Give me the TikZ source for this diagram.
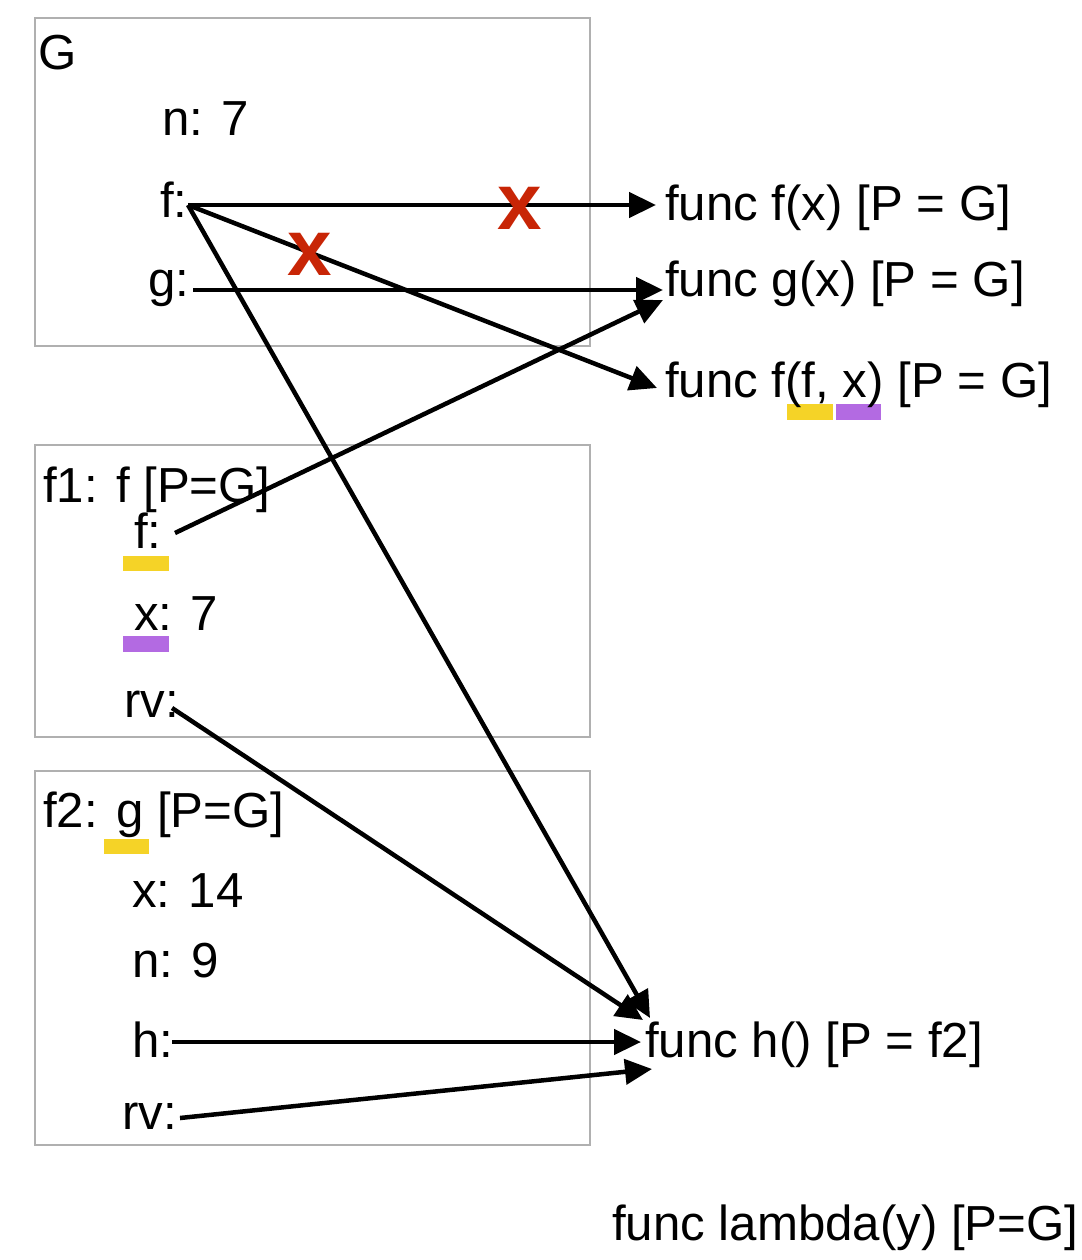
\documentclass[tikz,border=0pt]{standalone}
\usepackage{fontspec}
\setmainfont{Liberation Sans}
\usetikzlibrary{arrows.meta}
\definecolor{boxgray}{HTML}{B0B0B0}
\definecolor{xred}{HTML}{C82506}
\definecolor{hlyellow}{HTML}{F5D327}
\definecolor{hlpurple}{HTML}{B36AE2}
\begin{document}
\begin{tikzpicture}[x=1pt,y=-1pt,
  frame/.style={draw=boxgray,line width=2.5pt},
  lbl/.style={inner sep=0pt,anchor=base west,font=\fontsize{49.2}{58}\selectfont},
  cross/.style={inner sep=0pt,anchor=center,text=xred,font=\bfseries\fontsize{80}{80}\selectfont},
  ptr/.style={line width=4.5pt,-{Triangle[length=27pt,width=25pt]}},
  hly/.style={fill=hlyellow},
  hlp/.style={fill=hlpurple}]
\useasboundingbox (0,0) rectangle (1081,1260);
% frames
\draw[frame] (35,18) rectangle (590,346);
\draw[frame] (35,445) rectangle (590,737);
\draw[frame] (35,771) rectangle (590,1145);
% highlight bars
\fill[hly] (787,404) rectangle (833,420);
\fill[hlp] (836,404) rectangle (881,420);
\fill[hly] (123,556) rectangle (169,571);
\fill[hlp] (123,636) rectangle (169,652);
\fill[hly] (104,839) rectangle (149,854);
% G frame texts
\node[lbl] (Gt) at (38,70) {G};
\node[lbl] (Gn) at (162,136) {n: 7};
\node[lbl] (Gf) at (160,218) {f:};
\node[lbl] (Gg) at (148,296) {g:};
% functions
\node[lbl] (fx) at (665,220) {func f(x) [P = G]};
\node[lbl] (gx) at (665,296) {func g(x) [P = G]};
\node[lbl] (ffx) at (665,397) {func f(f, x) [P = G]};
\node[lbl] (hf) at (645,1057) {func h() [P = f2]};
\node[lbl] (lam) at (612,1240) {func lambda(y) [P=G]};
% f1 frame
\node[lbl] (F1t) at (43,502) {f1: f [P=G]};
\node[lbl] (F1f) at (134,548) {f:};
\node[lbl] (F1x) at (134,630) {x: 7};
\node[lbl] (F1rv) at (124,717) {rv:};
% f2 frame
\node[lbl] (F2t) at (43,827) {f2: g [P=G]};
\node[lbl] (F2x) at (132,907) {x: 14};
\node[lbl] (F2n) at (132,977) {n: 9};
\node[lbl] (F2h) at (132,1057) {h:};
\node[lbl] (F2rv) at (122,1129) {rv:};
% connector end points
\coordinate (sGf) at (188,205);
\coordinate (sGg) at (193,290);
\coordinate (sF1f) at (175,533);
\coordinate (sF1rv) at (172,708);
\coordinate (sF2h) at (172,1042);
\coordinate (sF2rv) at (180,1118);
\coordinate (tfx) at (656,205);
\coordinate (tgx) at (663,290);
\coordinate (tgx2) at (663,300);
\coordinate (tffx) at (657,388);
\coordinate (th1) at (650,1018);
\coordinate (th2) at (643,1020);
\coordinate (th3) at (641,1042);
\coordinate (th4) at (652,1069);
% connectors
\draw[ptr] (sGf) -- (tfx);
\draw[ptr] (sGf) -- (tffx);
\draw[ptr] (sGf) -- (th1);
\draw[ptr] (sGg) -- (tgx);
\draw[ptr] (sF1f) -- (tgx2);
\draw[ptr] (sF1rv) -- (th2);
\draw[ptr] (sF2h) -- (th3);
\draw[ptr] (sF2rv) -- (th4);
% crosses
\node[cross] (x1) at (520,208) {x};
\node[cross] (x2) at (310,254) {x};
\end{tikzpicture}
\end{document}
